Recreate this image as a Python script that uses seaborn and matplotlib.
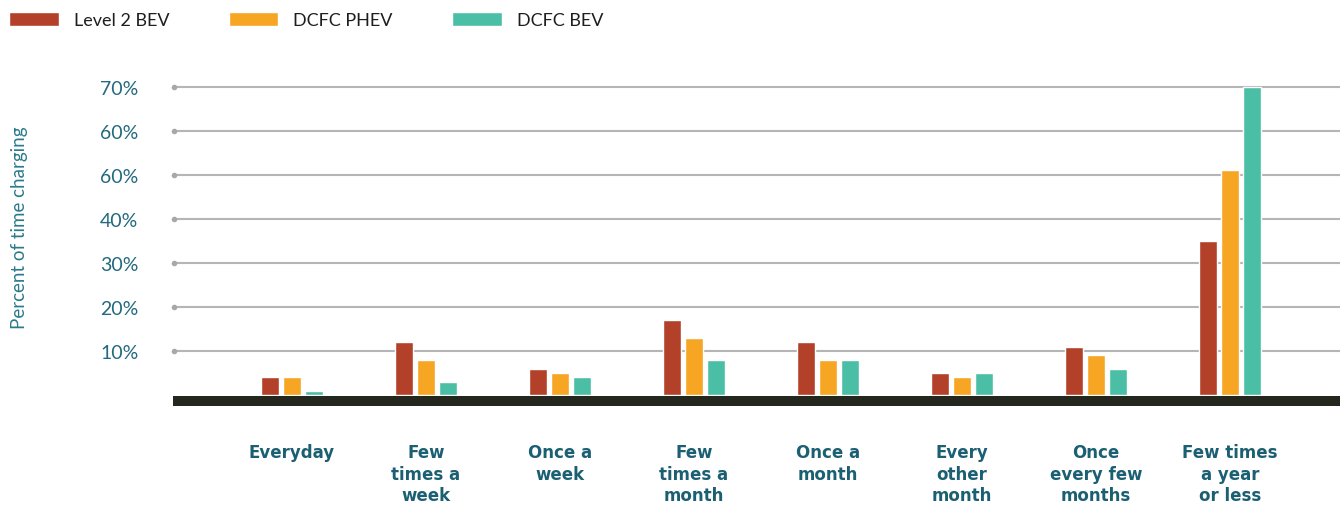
import numpy as np
import pandas as pd
import matplotlib
matplotlib.use("Agg")
import matplotlib.pyplot as plt
import matplotlib.transforms as mtransforms
import seaborn as sns

# Charging frequency categories and share of respondents (%) per charger type
categories = [
    "Everyday",
    "Few\ntimes a\nweek",
    "Once a\nweek",
    "Few\ntimes a\nmonth",
    "Once a\nmonth",
    "Every\nother\nmonth",
    "Once\nevery few\nmonths",
    "Few times\na year\nor less",
]
series = ["Level 2 BEV", "DCFC PHEV", "DCFC BEV"]
level2_bev = [4, 12, 6, 17, 12, 5, 11, 35]
dcfc_phev = [4, 8, 5, 13, 8, 4, 9, 51]
dcfc_bev = [1, 3, 4, 8, 8, 5, 6, 70]

y_ticks = [10, 20, 30, 40, 50, 60, 70]
y_tick_labels = ["10%", "20%", "30%", "40%", "60%", "60%", "70%"]

colors = ["#b34129", "#f6a623", "#4bbfa5"]
label_blue = "#1b5f73"
tick_blue = "#236a7e"

df = pd.DataFrame({
    "category": np.repeat(categories, 3),
    "series": series * len(categories),
    "value": np.ravel(np.column_stack([level2_bev, dcfc_phev, dcfc_bev])),
})

sns.set_style("white")
plt.rcParams["font.family"] = ["Lato", "DejaVu Sans"]

fig = plt.figure(figsize=(13.4, 5.06), dpi=100)
ax = fig.add_axes([0.1291, 0.1957, 0.8709, 0.6463])

sns.barplot(data=df, x="category", y="value", hue="series", order=categories,
            hue_order=series, palette=colors, width=0.49, gap=0.18,
            saturation=1, errorbar=None, ax=ax, zorder=3)

ax.set_xlim(-0.888, 7.82)
ax.set_ylim(-2.5, 71.8)

# dark floor under the bars
ax.axhspan(-2.5, -0.2, color="#23271e", zorder=4, lw=0)

# horizontal guide lines with a dot at their left end
ax.set_yticks(y_ticks)
ax.set_yticklabels(y_tick_labels)
for t in y_ticks:
    ax.axhline(t, color="#b5b5b5", lw=1.5, zorder=1)
blend = mtransforms.blended_transform_factory(ax.transAxes, ax.transData)
ax.scatter(np.full(len(y_ticks), 0.001), y_ticks, transform=blend, s=9,
           color="#a8a8a8", zorder=2, clip_on=False)

ax.tick_params(axis="y", length=0, pad=25, labelsize=14, labelcolor=tick_blue)
ax.tick_params(axis="x", length=0, pad=27)
for lbl in ax.get_xticklabels():
    lbl.set_fontfamily("DejaVu Sans")
    lbl.set_fontweight("bold")
    lbl.set_fontsize(12)
    lbl.set_color(label_blue)
    lbl.set_linespacing(1.25)
    lbl.set_verticalalignment("top")

ax.set_xlabel("")
ax.set_ylabel("")
fig.text(0.0142, 0.55, "Percent of time charging", rotation=90, ha="center",
         va="center", fontsize=13.5, color="#2b7a8b")

for s in ax.spines.values():
    s.set_visible(False)

sns.move_legend(ax, "center left", bbox_to_anchor=(9 / 1340, 1 - 21 / 506),
                bbox_transform=fig.transFigure, ncol=3, frameon=False,
                title=None, fontsize=13, handlelength=2.75, handleheight=0.8,
                handletextpad=0.83, columnspacing=3.3, borderpad=0,
                borderaxespad=0)
for txt in ax.get_legend().get_texts():
    txt.set_color("#1e1e1e")

fig.savefig("out.png", dpi=100)
